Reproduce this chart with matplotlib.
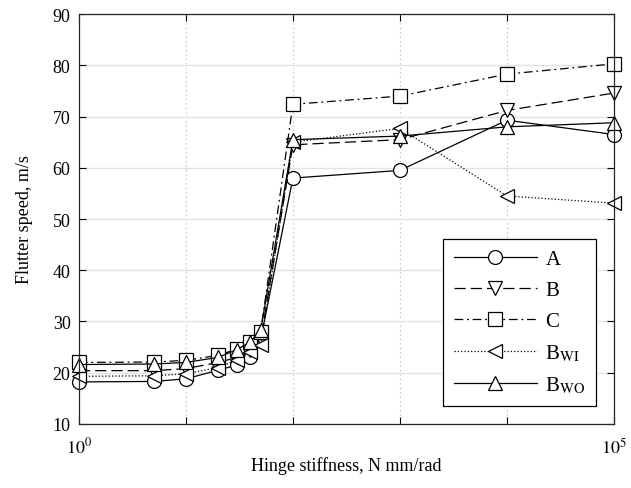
import matplotlib.pyplot as plt
import numpy as np

plt.rcParams['font.family'] = ['Liberation Serif', 'DejaVu Serif']
plt.rcParams['mathtext.fontset'] = 'stix'

stiffness = [1, 5, 10, 20, 30, 40, 50, 100, 1000, 10000, 100000]
speed_a = [18.2, 18.3, 18.8, 20.5, 21.5, 23.0, 26.5, 58.0, 59.5, 69.3, 66.5]
speed_b = [20.4, 20.4, 20.8, 22.0, 23.0, 24.5, 26.5, 64.5, 65.5, 71.2, 74.6]
speed_c = [22.0, 22.1, 22.4, 23.4, 24.6, 26.0, 28.0, 72.4, 74.0, 78.3, 80.3]
speed_bwi = [19.3, 19.4, 19.8, 21.0, 22.5, 24.0, 25.5, 65.0, 67.7, 54.5, 53.1]
speed_bwo = [21.6, 21.7, 22.0, 23.0, 24.5, 26.0, 28.3, 65.5, 66.2, 68.0, 68.8]

series = [
    (speed_a, 'A', '-', 'o'),
    (speed_b, 'B', (0, (9, 4)), 'v'),
    (speed_c, 'C', (0, (7, 3, 1.5, 3)), 's'),
    (speed_bwi, r'B$_\mathrm{WI}$', ':', '<'),
    (speed_bwo, r'B$_\mathrm{WO}$', '-', '^'),
]

fig = plt.figure(figsize=(6.31, 4.89), dpi=100)
ax = fig.add_axes([0.125, 0.131, 0.848, 0.838])

for vals, label, ls, mk in series:
    ax.plot(stiffness, vals, color='black', linestyle=ls, linewidth=0.9,
            marker=mk, markersize=10, markerfacecolor='white',
            markeredgecolor='black', markeredgewidth=0.9, label=label,
            clip_on=False, zorder=3)

ax.set_xscale('log')
ax.set_xlim(1, 1e5)
ax.set_ylim(10, 90)
ax.set_yticks(np.arange(10, 91, 10))
ax.set_xticks([1, 10, 100, 1000, 10000, 100000])
ax.set_xticklabels([r'$10^0$', '', '', '', '', r'$10^5$'])
ax.minorticks_off()

ax.yaxis.grid(True, color='#e2e2e2', linestyle='-', linewidth=1)
ax.xaxis.grid(True, color='#b0b0b0', linestyle=(0, (1, 3)), linewidth=0.8)
ax.set_axisbelow(True)

ax.tick_params(direction='in', top=True, right=True, length=5,
               labelsize=13, width=0.8, pad=6)
ax.tick_params(axis='x', pad=9)
for s in ax.spines.values():
    s.set_linewidth(0.9)
    s.set_color('#262626')
    s.set_zorder(4)

ax.set_xlabel('Hinge stiffness, N mm/rad', fontsize=13, labelpad=0)
ax.set_ylabel('Flutter speed, m/s', fontsize=13, labelpad=14)

leg = ax.legend(loc='lower right', bbox_to_anchor=(0.966, 0.044),
                borderaxespad=0, handlelength=4.0, fontsize=15,
                fancybox=False, edgecolor='black', framealpha=1,
                borderpad=0.5, labelspacing=0.55, handletextpad=0.4)
leg.get_frame().set_linewidth(0.9)
leg.set_zorder(5)

fig.savefig('out.png', dpi=100)
